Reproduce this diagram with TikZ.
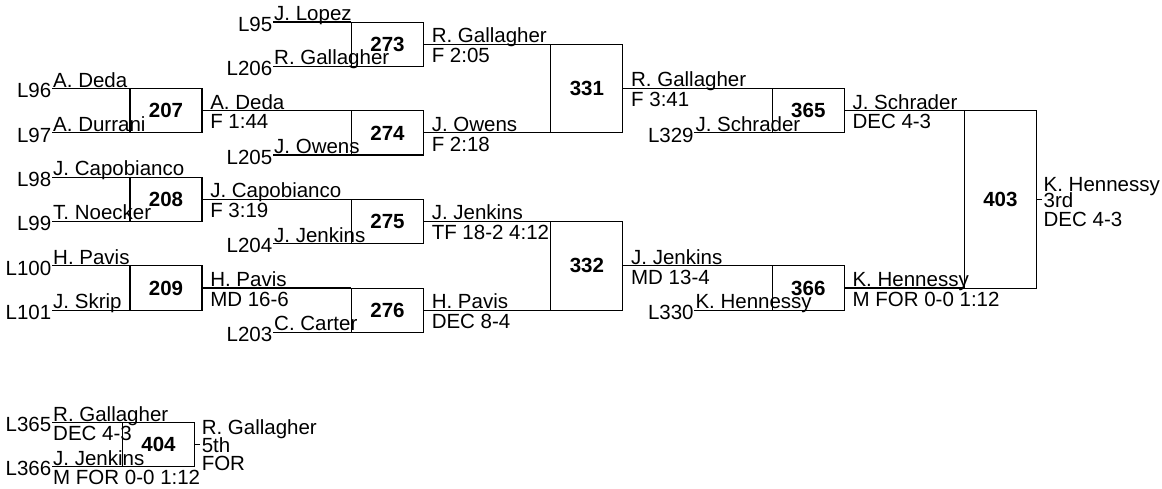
\documentclass[tikz,border=0pt]{standalone}
\usepackage{fontspec}
\setmainfont{Liberation Sans}
\begin{document}
\begin{tikzpicture}[x=1pt,y=-1pt,line cap=butt,line join=miter,
    font=\fontsize{20.5}{17.5}\selectfont,
    bout/.style={draw,line width=1.1pt,minimum width=72pt,inner sep=0pt,
      font=\fontsize{20.5}{17.5}\selectfont\bfseries},
    wire/.style={line width=1.1pt},
    lnum/.style={anchor=base east,inner sep=0pt,xshift=-0.5pt,yshift=-9.2pt},
    pname/.style={anchor=base west,inner sep=0pt,xshift=1pt,yshift=1.5pt},
    pres/.style={anchor=base west,inner sep=0pt,xshift=1pt,yshift=-18.2pt},
    wname/.style={anchor=base west,inner sep=0pt,xshift=7.5pt,yshift=1.5pt},
    wres/.style={anchor=base west,inner sep=0pt,xshift=7.5pt,yshift=-18.2pt},
    place/.style={anchor=base west,inner sep=0pt,xshift=1.5pt}]
  \useasboundingbox (0,0) rectangle (1162,489);

  % bouts
  \node[bout,minimum height=44.2pt] (m207) at (166,110.7) {207};
  \node[bout,minimum height=44.2pt] (m208) at (166,199.4) {208};
  \node[bout,minimum height=44.2pt] (m209) at (166,288.0) {209};
  \node[bout,minimum height=44.2pt] (m273) at (387.5,44.2) {273};
  \node[bout,minimum height=44.2pt] (m274) at (387.5,132.9) {274};
  \node[bout,minimum height=44.2pt] (m275) at (387.5,221.5) {275};
  \node[bout,minimum height=44.2pt] (m276) at (387.5,310.2) {276};
  \node[bout,minimum height=88.7pt] (m331) at (586.9,88.5) {331};
  \node[bout,minimum height=88.7pt] (m332) at (586.9,265.9) {332};
  \node[bout,minimum height=44.2pt] (m365) at (808.3,110.7) {365};
  \node[bout,minimum height=44.2pt] (m366) at (808.3,288.0) {366};
  \node[bout,minimum height=177.3pt] (m403) at (1000.4,199.4) {403};
  \node[bout,minimum height=44pt] (m404) at (158.5,444.7) {404};

  % first round entries
  \coordinate (s96) at (52,88.6);
  \coordinate (s97) at (52,132.9);
  \coordinate (s98) at (52,177.2);
  \coordinate (s99) at (52,221.5);
  \coordinate (s100) at (52,265.9);
  \coordinate (s101) at (52,310.2);
  \draw[wire] (s96) -- (s96 -| m207.west);
  \draw[wire] (s97) -- (s97 -| m207.west);
  \draw[wire] (s98) -- (s98 -| m208.west);
  \draw[wire] (s99) -- (s99 -| m208.west);
  \draw[wire] (s100) -- (s100 -| m209.west);
  \draw[wire] (s101) -- (s101 -| m209.west);
  \node[lnum] (n96) at (s96) {L96};
  \node[pname] (p96) at (s96) {A. Deda};
  \node[lnum] (n97) at (s97) {L97};
  \node[pname] (p97) at (s97) {A. Durrani};
  \node[lnum] (n98) at (s98) {L98};
  \node[pname] (p98) at (s98) {J. Capobianco};
  \node[lnum] (n99) at (s99) {L99};
  \node[pname] (p99) at (s99) {T. Noecker};
  \node[lnum] (n100) at (s100) {L100};
  \node[pname] (p100) at (s100) {H. Pavis};
  \node[lnum] (n101) at (s101) {L101};
  \node[pname] (p101) at (s101) {J. Skrip};

  % second round entries
  \coordinate (s95) at (273,22);
  \coordinate (s206) at (273,66.3);
  \coordinate (s205) at (273,155);
  \coordinate (s204) at (273,243.7);
  \coordinate (s203) at (273,332.4);
  \draw[wire] (s95) -- (s95 -| m273.west);
  \draw[wire] (s206) -- (s206 -| m273.west);
  \draw[wire] (s205) -- (s205 -| m274.west);
  \draw[wire] (s204) -- (s204 -| m275.west);
  \draw[wire] (s203) -- (s203 -| m276.west);
  \node[lnum] (n95) at (s95) {L95};
  \node[pname] (p95) at (s95) {J. Lopez};
  \node[lnum] (n206) at (s206) {L206};
  \node[pname] (p206) at (s206) {R. Gallagher};
  \node[lnum] (n205) at (s205) {L205};
  \node[pname] (p205) at (s205) {J. Owens};
  \node[lnum] (n204) at (s204) {L204};
  \node[pname] (p204) at (s204) {J. Jenkins};
  \node[lnum] (n203) at (s203) {L203};
  \node[pname] (p203) at (s203) {C. Carter};

  % winners forward
  \draw[wire] (m207.east) -- (m207.east -| m274.west);
  \draw[wire] (m208.east) -- (m208.east -| m275.west);
  \draw[wire] (m209.east) -- (m209.east -| m276.west);
  \draw[wire] (m273.east) -- (m273.east -| m331.west);
  \draw[wire] (m274.east) -- (m274.east -| m331.west);
  \draw[wire] (m275.east) -- (m275.east -| m332.west);
  \draw[wire] (m276.east) -- (m276.east -| m332.west);
  \draw[wire] (m331.east) -- (m331.east -| m365.west);
  \draw[wire] (m332.east) -- (m332.east -| m366.west);
  \draw[wire] (m365.east) -- (m365.east -| m403.west);
  \draw[wire] (m366.east) -- (m366.east -| m403.west);
  \node[wname] (w207) at (m207.east) {A. Deda};
  \node[wres] (r207) at (m207.east) {F 1:44};
  \node[wname] (w208) at (m208.east) {J. Capobianco};
  \node[wres] (r208) at (m208.east) {F 3:19};
  \node[wname] (w209) at (m209.east) {H. Pavis};
  \node[wres] (r209) at (m209.east) {MD 16-6};
  \node[wname] (w273) at (m273.east) {R. Gallagher};
  \node[wres] (r273) at (m273.east) {F 2:05};
  \node[wname] (w274) at (m274.east) {J. Owens};
  \node[wres] (r274) at (m274.east) {F 2:18};
  \node[wname] (w275) at (m275.east) {J. Jenkins};
  \node[wres] (r275) at (m275.east) {TF 18-2 4:12};
  \node[wname] (w276) at (m276.east) {H. Pavis};
  \node[wres] (r276) at (m276.east) {DEC 8-4};
  \node[wname] (w331) at (m331.east) {R. Gallagher};
  \node[wres] (r331) at (m331.east) {F 3:41};
  \node[wname] (w332) at (m332.east) {J. Jenkins};
  \node[wres] (r332) at (m332.east) {MD 13-4};
  \node[wname] (w365) at (m365.east) {J. Schrader};
  \node[wres] (r365) at (m365.east) {DEC 4-3};
  \node[wname] (w366) at (m366.east) {K. Hennessy};
  \node[wres] (r366) at (m366.east) {M FOR 0-0 1:12};

  % entries from the other side
  \coordinate (s329) at (694.3,132.9);
  \coordinate (s330) at (694.3,310.2);
  \draw[wire] (s329) -- (s329 -| m365.west);
  \draw[wire] (s330) -- (s330 -| m366.west);
  \node[lnum] (n329) at (s329) {L329};
  \node[pname] (p329) at (s329) {J. Schrader};
  \node[lnum] (n330) at (s330) {L330};
  \node[pname] (p330) at (s330) {K. Hennessy};

  % third place
  \draw[wire] (m403.east) -- ++(5,0) coordinate (t403);
  \node[place,yshift=7.5pt] (a403) at (t403) {K. Hennessy};
  \node[place,yshift=-8.5pt] (b403) at (t403) {3rd};
  \node[place,yshift=-27pt] (c403) at (t403) {DEC 4-3};

  % fifth place
  \coordinate (s365) at (52,422.7);
  \coordinate (s366) at (52,466.7);
  \draw[wire] (s365) -- (s365 -| m404.west);
  \draw[wire] (s366) -- (s366 -| m404.west);
  \node[lnum] (n365) at (s365) {L365};
  \node[pname] (p365) at (s365) {R. Gallagher};
  \node[pres] (q365) at (s365) {DEC 4-3};
  \node[lnum] (n366) at (s366) {L366};
  \node[pname] (p366) at (s366) {J. Jenkins};
  \node[pres] (q366) at (s366) {M FOR 0-0 1:12};
  \draw[wire] (m404.east) -- ++(5,0) coordinate (t404);
  \node[place,yshift=10.5pt] (a404) at (t404) {R. Gallagher};
  \node[place,yshift=-7.5pt] (b404) at (t404) {5th};
  \node[place,yshift=-25.5pt] (c404) at (t404) {FOR};
\end{tikzpicture}
\end{document}
